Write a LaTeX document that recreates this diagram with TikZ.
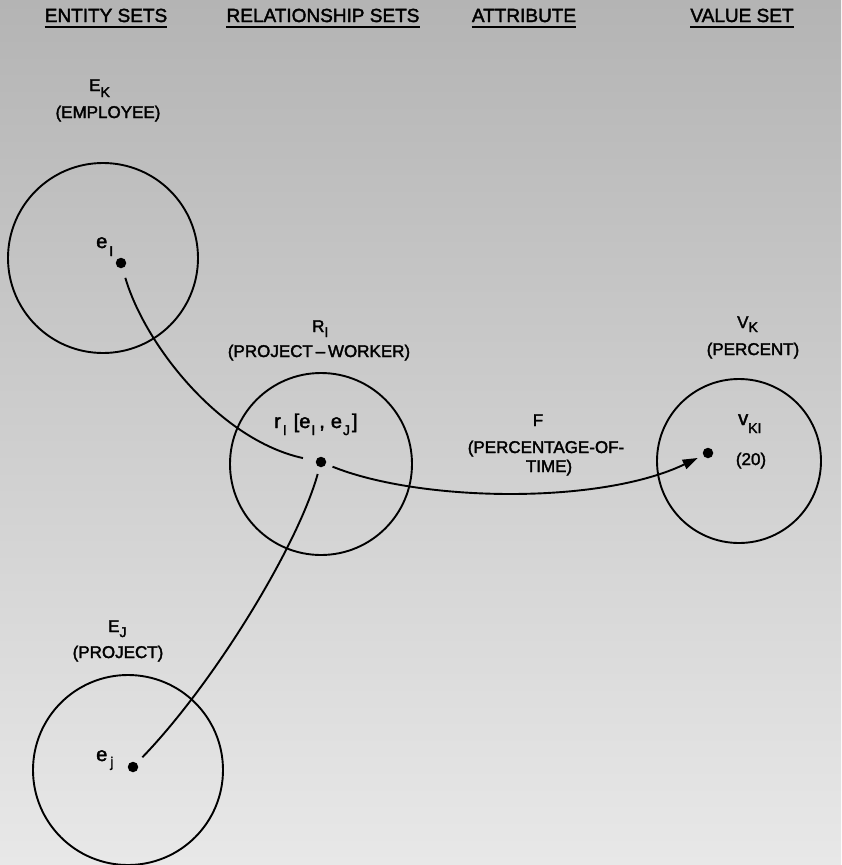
\documentclass[tikz,border=0pt]{standalone}
\usepackage{fontspec}
\setmainfont{Liberation Sans}[FakeBold=2]
\usetikzlibrary{arrows.meta}
\definecolor{bgtop}{RGB}{180,180,180}
\definecolor{bgbot}{RGB}{232,232,232}
\newcommand\sbs[2][-6pt]{\raisebox{#1}{\fontsize{14}{14}\selectfont #2}}
\newcommand\lc[1]{{\fontsize{20}{20}\selectfont #1}}
\begin{document}
\begin{tikzpicture}[x=1pt,y=-1pt,
  setc/.style={draw, circle, line width=1.9pt, inner sep=0pt},
  dot/.style={circle, fill=black, inner sep=0pt, minimum size=10.5pt},
  head/.style={inner sep=0pt, font=\fontsize{19}{22}\selectfont, anchor=base},
  lbl/.style={inner sep=0pt, font=\fontsize{17}{20}\selectfont, anchor=base},
  lblw/.style={lbl, anchor=base west},
  conn/.style={line width=1.9pt},
  uline/.style={line width=1.7pt}]
\shade[top color=bgtop, bottom color=bgbot] (0,0) rectangle (841,865);
\useasboundingbox (0,0) rectangle (841,865);
% headings
\node[head] (h1) at (106,22) {ENTITY SETS};
\node[head] (h2) at (323,22) {RELATIONSHIP SETS};
\node[head] (h3) at (524,22) {ATTRIBUTE};
\node[head] (h4) at (742,22) {VALUE SET};
\foreach \h in {h1,h2,h3,h4}
  \draw[uline] ([yshift=-5pt]\h.base west) -- ([yshift=-5pt]\h.base east);
% sets
\node[setc, minimum size=190pt] (EK) at (103,258) {};
\node[setc, minimum size=182pt] (RI) at (321,464) {};
\node[setc, minimum size=164pt] (VK) at (739,461) {};
\node[setc, minimum size=190pt] (EJ) at (128,770) {};
% labels
\node[lblw] (EKl) at (89,91) {E\sbs[-6pt]{K}};
\node[lbl] (EKn) at (108,118) {(EMPLOYEE)};
\node[lblw] (eIl) at (96,248) {\lc{e}\hspace{2pt}\sbs[-8pt]{I}};
\node[lblw] (RIl) at (312,332) {R\sbs[-5pt]{I}};
\node[lbl] (RIn) at (319,357) {(PROJECT\,–\,WORKER)};
\node[lblw] (rl) at (274,428) {\lc{r}\hspace{2pt}\sbs[-7pt]{I}\hspace{7pt}\lc{[e}\hspace{1pt}\sbs[-7pt]{I}\hspace{4pt}\lc{,}\hspace{6pt}\lc{e}\hspace{1pt}\sbs[-7pt]{J}\hspace{2pt}\lc{]}};
\node[lblw] (VKl) at (737,328) {V\sbs[-4pt]{K}};
\node[lbl] (VKn) at (753,355) {(PERCENT)};
\node[lblw] (vl) at (738,425) {\lc{v}\sbs[-8pt]{KI}};
\node[lbl] (v20) at (751,465) {(20)};
\node[lbl] (F) at (538,426) {F};
\node[lbl] (Fn1) at (546,453) {(PERCENTAGE-OF-};
\node[lbl] (Fn2) at (549,472) {TIME)};
\node[lblw] (EJl) at (108,632) {E\sbs[-5pt]{J}};
\node[lbl] (EJn) at (118,658) {(PROJECT)};
\node[lblw] (ejl) at (96,761) {\lc{e}\hspace{3pt}\sbs[-6pt]{j}};
% dots
\node[dot] (eI) at (121,263) {};
\node[dot] (rr) at (321,462) {};
\node[dot] (vv) at (708,453) {};
\node[dot] (ej) at (133,767) {};
% connectors
\draw[conn, shorten <=10pt, shorten >=13pt] (eI) .. controls (145,345) and (220,440) .. (rr);
\draw[conn, shorten <=7pt, shorten >=6pt, -{Triangle[length=15pt,width=10pt]}] (rr) .. controls (420,502) and (600,505) .. (vv);
\draw[conn, shorten <=8pt, shorten >=7pt] (ej) .. controls (215,682) and (298,545) .. (rr);
\end{tikzpicture}
\end{document}
